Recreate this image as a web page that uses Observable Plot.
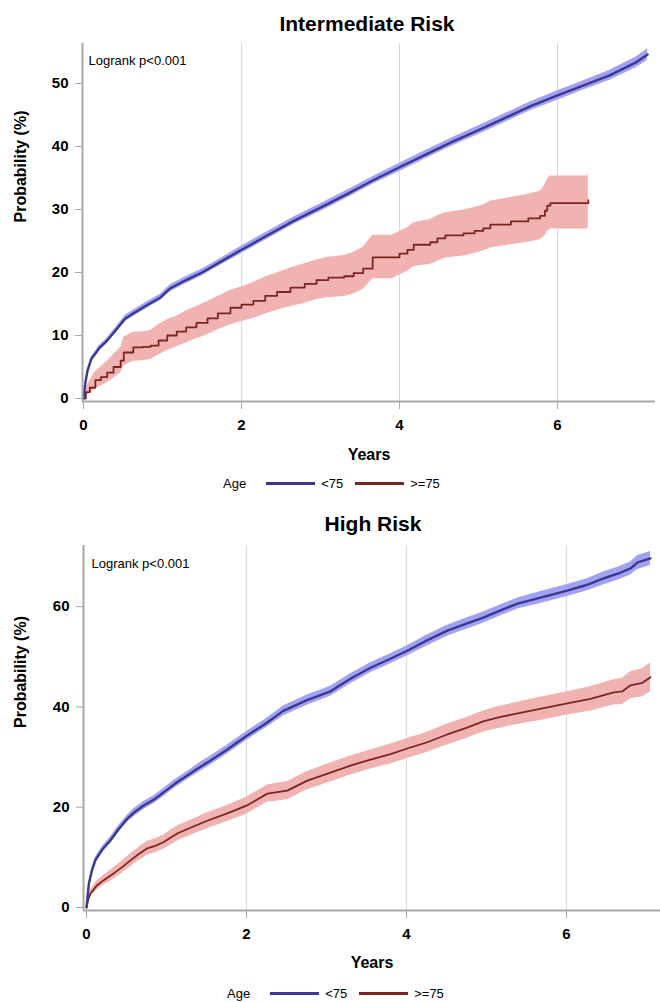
<!DOCTYPE html>
<html>
<head>
<meta charset="utf-8">
<script src="https://cdn.jsdelivr.net/npm/d3@7"></script>
<script src="https://cdn.jsdelivr.net/npm/@observablehq/plot@0.6"></script>
<style>
  html, body { margin: 0; padding: 0; background: #fff; }
  body { position: relative; width: 660px; height: 1002px; overflow: hidden;
         font-family: "Liberation Sans", Arial, sans-serif; color: #000; }
  .title { position: absolute; font-weight: bold; font-size: 21px; line-height: 24px;
           white-space: nowrap; transform: translateX(-50%); }
  .panel { position: absolute; left: 0; }
  .legend { position: absolute; display: flex; align-items: center; height: 16px;
            font-size: 13px; white-space: nowrap; }
  .legend .sw { display: inline-block; width: 49px; height: 3px; }
</style>
</head>
<body>
<div class="title" style="left:367px; top:12px">Intermediate Risk</div>
<div class="panel" id="p1" style="top:36px"></div>
<div class="legend" id="lg1" style="left:223px; top:475px"></div>
<div class="title" style="left:373px; top:512px">High Risk</div>
<div class="panel" id="p2" style="top:538px"></div>
<div class="legend" id="lg2" style="left:227px; top:985px"></div>
<script>
// ---------- labels ----------
const panelTitles = ["Intermediate Risk", "High Risk"];
const groups = ["<75", ">=75"];
const legendTitle = "Age";
const xLabel = "Years";
const yLabel = "Probability (%)";
const testLabel = "Logrank p<0.001";
const xTicks = [0, 2, 4, 6];
const gridTicks = [2, 4, 6];
const yTicksTop = [0, 10, 20, 30, 40, 50];
const yTicksBottom = [0, 20, 40, 60];

// ---------- Intermediate Risk, age <75 ----------
const intYoungT  = [0, 0.02, 0.05, 0.1, 0.15, 0.2, 0.3, 0.4, 0.53, 0.63, 0.8, 0.97, 1.1, 1.3, 1.5, 1.75, 2.0, 2.33, 2.66, 3.0, 3.33, 3.66, 4.0, 4.33, 4.66, 5.0, 5.33, 5.66, 6.0, 6.33, 6.66, 7.0, 7.14];
const intYoungP  = [0, 2.2, 4.4, 6.3, 7.1, 8.0, 9.2, 10.7, 12.7, 13.5, 14.8, 16.0, 17.5, 18.8, 20.0, 21.8, 23.6, 25.9, 28.2, 30.3, 32.4, 34.6, 36.7, 38.7, 40.7, 42.6, 44.5, 46.4, 48.1, 49.7, 51.3, 53.4, 54.6];
const intYoungLo = [0, 2.0, 4.1, 5.95, 6.7, 7.6, 8.8, 10.25, 12.2, 13.0, 14.3, 15.5, 16.95, 18.25, 19.45, 21.25, 23.0, 25.3, 27.6, 29.7, 31.8, 34.0, 36.05, 38.05, 40.05, 41.9, 43.8, 45.7, 47.35, 48.95, 50.5, 52.55, 53.7];
const intYoungHi = [0, 2.4, 4.7, 6.65, 7.5, 8.4, 9.6, 11.15, 13.2, 14.0, 15.3, 16.5, 18.05, 19.35, 20.55, 22.35, 24.2, 26.5, 28.8, 30.9, 33.0, 35.2, 37.35, 39.35, 41.35, 43.3, 45.2, 47.1, 48.85, 50.45, 52.1, 54.25, 55.5];

// ---------- Intermediate Risk, age >=75 ----------
const intOldT  = [0, 0.03, 0.08, 0.15, 0.22, 0.3, 0.38, 0.47, 0.51, 0.63, 0.75, 0.85, 0.95, 1.06, 1.18, 1.3, 1.43, 1.57, 1.7, 1.86, 2.0, 2.15, 2.3, 2.45, 2.62, 2.8, 2.95, 3.1, 3.3, 3.42, 3.54, 3.66, 3.91, 4.0, 4.1, 4.18, 4.39, 4.48, 4.58, 4.81, 4.95, 5.06, 5.15, 5.41, 5.63, 5.78, 5.84, 5.87, 5.91, 6.38, 6.39];
const intOldP  = [0, 1.0, 1.7, 2.9, 3.4, 4.1, 5.0, 6.0, 7.3, 8.1, 8.2, 8.4, 9.2, 10.0, 10.6, 11.3, 12.0, 12.7, 13.5, 14.4, 14.9, 15.5, 16.3, 16.9, 17.6, 18.2, 18.8, 19.2, 19.4, 19.9, 20.6, 22.4, 22.4, 23.0, 23.6, 24.4, 24.8, 25.4, 25.9, 26.2, 26.6, 27.0, 27.6, 28.1, 28.6, 29.0, 29.8, 30.6, 31.0, 31.0, 31.5];
const intOldLo = [0, 0.4, 0.8, 1.6, 2.0, 2.5, 3.2, 4.1, 5.2, 5.9, 6.0, 6.2, 6.9, 7.6, 8.2, 8.8, 9.5, 10.1, 10.9, 11.7, 12.2, 12.7, 13.4, 14.0, 14.6, 15.1, 15.7, 16.0, 16.2, 16.6, 17.3, 19.0, 19.0, 19.6, 20.2, 20.9, 21.3, 21.8, 22.3, 22.6, 23.0, 23.4, 23.9, 24.4, 24.8, 25.2, 25.8, 26.5, 26.9, 26.9, 27.3];
const intOldHi = [0, 1.7, 2.8, 4.3, 5.0, 5.9, 7.0, 8.1, 9.7, 10.5, 10.6, 10.8, 11.7, 12.5, 13.1, 13.9, 14.6, 15.4, 16.2, 17.2, 17.7, 18.4, 19.3, 19.9, 20.7, 21.4, 22.0, 22.4, 22.7, 23.2, 24.0, 25.9, 25.9, 26.5, 27.1, 27.9, 28.4, 29.0, 29.5, 29.9, 30.3, 30.7, 31.3, 31.9, 32.4, 32.9, 33.9, 34.8, 35.3, 35.3, 35.8];

// ---------- High Risk, age <75 ----------
const highYoungT  = [0, 0.03, 0.07, 0.11, 0.2, 0.3, 0.4, 0.51, 0.6, 0.71, 0.85, 0.96, 1.1, 1.26, 1.4, 1.55, 1.76, 2.0, 2.25, 2.46, 2.75, 3.05, 3.3, 3.55, 3.8, 4.01, 4.25, 4.51, 4.75, 4.96, 5.2, 5.39, 5.7, 6.01, 6.25, 6.46, 6.65, 6.8, 6.89, 7.05];
const highYoungP  = [0, 4.8, 7.5, 9.4, 11.6, 13.4, 15.6, 17.7, 19.0, 20.3, 21.6, 22.9, 24.6, 26.3, 27.8, 29.3, 31.5, 34.2, 36.8, 39.2, 41.3, 43.1, 45.6, 47.8, 49.6, 51.2, 53.2, 55.2, 56.6, 57.8, 59.4, 60.6, 61.9, 63.2, 64.3, 65.6, 66.6, 67.6, 68.8, 69.6];
const highYoungLo = [0, 4.4, 7.0, 8.8, 11.0, 12.7, 14.9, 17.0, 18.2, 19.5, 20.8, 22.1, 23.8, 25.5, 26.9, 28.4, 30.6, 33.3, 35.9, 38.2, 40.3, 42.1, 44.6, 46.8, 48.6, 50.2, 52.1, 54.1, 55.5, 56.7, 58.3, 59.5, 60.7, 62.0, 63.1, 64.3, 65.3, 66.3, 67.4, 68.2];
const highYoungHi = [0, 5.2, 8.0, 10.0, 12.2, 14.1, 16.3, 18.4, 19.8, 21.1, 22.4, 23.7, 25.4, 27.1, 28.7, 30.2, 32.4, 35.1, 37.7, 40.2, 42.3, 44.1, 46.6, 48.8, 50.6, 52.2, 54.3, 56.3, 57.7, 58.9, 60.5, 61.7, 63.1, 64.4, 65.5, 66.9, 67.9, 68.9, 70.2, 71.0];

// ---------- High Risk, age >=75 ----------
const highOldT  = [0, 0.02, 0.05, 0.13, 0.22, 0.34, 0.45, 0.55, 0.65, 0.76, 0.86, 0.96, 1.05, 1.14, 1.3, 1.51, 1.75, 2.0, 2.13, 2.26, 2.51, 2.76, 3.05, 3.3, 3.55, 3.8, 4.01, 4.25, 4.51, 4.75, 4.96, 5.15, 5.39, 5.7, 6.01, 6.3, 6.59, 6.7, 6.8, 6.95, 7.05];
const highOldP  = [0, 1.5, 2.8, 4.4, 5.5, 6.8, 8.1, 9.4, 10.6, 11.8, 12.3, 13.0, 13.9, 14.8, 15.9, 17.3, 18.7, 20.3, 21.5, 22.7, 23.3, 25.3, 26.9, 28.3, 29.5, 30.6, 31.7, 32.9, 34.5, 35.8, 37.1, 37.9, 38.7, 39.7, 40.7, 41.6, 42.9, 43.1, 44.3, 44.8, 45.9];
const highOldLo = [0, 1.0, 2.1, 3.5, 4.5, 5.7, 6.9, 8.1, 9.3, 10.4, 10.9, 11.6, 12.4, 13.3, 14.4, 15.7, 17.1, 18.6, 19.8, 21.0, 21.5, 23.5, 25.0, 26.4, 27.6, 28.6, 29.7, 30.9, 32.4, 33.7, 35.0, 35.7, 36.5, 37.4, 38.4, 39.2, 40.4, 40.5, 41.6, 42.0, 43.0];
const highOldHi = [0, 2.0, 3.5, 5.3, 6.5, 7.9, 9.3, 10.7, 11.9, 13.2, 13.7, 14.4, 15.4, 16.3, 17.4, 18.9, 20.3, 22.0, 23.2, 24.4, 25.1, 27.1, 28.8, 30.2, 31.4, 32.6, 33.7, 34.9, 36.6, 37.9, 39.2, 40.1, 40.9, 42.0, 43.0, 44.0, 45.4, 45.7, 47.0, 47.6, 48.8];

// ---------- styling ----------
const FONT = "'Liberation Sans', Arial, sans-serif";
const BLUE_LINE = "#393993", BLUE_BAND = "#a3a2f2";
const RED_LINE = "#7a2620",  RED_BAND = "#f1b3b1";
const AXIS_GRAY = "#a8a8a8", GRID_GRAY = "#d8d8d8";

function series(t, p, lo, hi) {
  return t.map((v, i) => ({t: v, p: p[i], lo: lo[i], hi: hi[i]}));
}

function panel(cfg) {
  const young = series(...cfg.young), old = series(...cfg.old);
  return Plot.plot({
    width: 660, height: cfg.height,
    marginTop: 7, marginBottom: cfg.marginBottom, marginLeft: cfg.marginLeft, marginRight: cfg.marginRight,
    x: {domain: cfg.xDomain},
    y: {domain: cfg.yDomain},
    style: {fontFamily: FONT, fontSize: "15px", fontWeight: "bold", background: "white", color: "black", overflow: "visible"},
    marks: [
      Plot.gridX(gridTicks, {stroke: GRID_GRAY, strokeOpacity: 1, strokeWidth: 1}),
      Plot.areaY(old, {x: "t", y1: "lo", y2: "hi", fill: RED_BAND, fillOpacity: 1, curve: "linear"}),
      Plot.areaY(young, {x: "t", y1: "lo", y2: "hi", fill: BLUE_BAND, fillOpacity: 1, curve: "linear"}),
      Plot.lineY(old, {x: "t", y: "p", stroke: RED_LINE, strokeWidth: 1.8, curve: cfg.oldCurve}),
      Plot.lineY(young, {x: "t", y: "p", stroke: BLUE_LINE, strokeWidth: 2.4, curve: "linear"}),
      Plot.ruleX([cfg.xDomain[0]], {stroke: AXIS_GRAY, strokeWidth: 2}),
      Plot.ruleY([cfg.yDomain[0]], {stroke: AXIS_GRAY, strokeWidth: 2}),
      Plot.axisX({ticks: xTicks, tickSize: 8, tickPadding: 10, label: null, stroke: AXIS_GRAY, fill: "black",
                  fontSize: 15, fontWeight: "bold", tickFormat: d => String(d)}),
      Plot.axisY({ticks: cfg.yTicks, tickSize: 7, tickPadding: 7, label: null, stroke: AXIS_GRAY, fill: "black",
                  fontSize: 15, fontWeight: "bold", tickFormat: d => String(d)}),
      Plot.text([xLabel], {frameAnchor: "bottom", dy: cfg.xLabelDy, text: d => d, fontSize: 16, fontWeight: "bold", fill: "black"}),
      Plot.text([yLabel], {frameAnchor: "left", dx: cfg.yLabelDx, rotate: -90, text: d => d, fontSize: 16, fontWeight: "bold", fill: "black"}),
      Plot.text([testLabel], {frameAnchor: "top-left", dx: cfg.testDx, dy: cfg.testDy, textAnchor: "start", text: d => d,
                              fontSize: 13, fontWeight: "normal", fill: "black"})
    ]
  });
}

document.getElementById("p1").append(panel({
  height: 432, marginBottom: 67, marginLeft: 82, marginRight: 5,
  xDomain: [-0.0127, 7.24], yDomain: [-0.48, 56.35], yTicks: yTicksTop,
  young: [intYoungT, intYoungP, intYoungLo, intYoungHi],
  old: [intOldT, intOldP, intOldLo, intOldHi], oldCurve: "step-after",
  xLabelDy: 58, yLabelDx: -62, testDx: 6, testDy: 12
}));

document.getElementById("p2").append(panel({
  height: 434, marginBottom: 62, marginLeft: 83, marginRight: 0,
  xDomain: [-0.0375, 7.175], yDomain: [-0.6, 72.18], yTicks: yTicksBottom,
  young: [highYoungT, highYoungP, highYoungLo, highYoungHi],
  old: [highOldT, highOldP, highOldLo, highOldHi], oldCurve: "linear",
  xLabelDy: 57, yLabelDx: -63, testDx: 8, testDy: 13
}));

function legend(id) {
  const el = document.getElementById(id);
  const colors = [BLUE_LINE, RED_LINE];
  let html = `<span style="margin-right:20px">${legendTitle}</span>`;
  groups.forEach((g, i) => {
    const esc = g.replace(/</g, "&lt;").replace(/>/g, "&gt;");
    html += `<span class="sw" style="background:${colors[i]}"></span>` +
            `<span style="margin-left:6px;margin-right:${i === 0 ? 12 : 0}px">${esc}</span>`;
  });
  el.innerHTML = html;
}
legend("lg1");
legend("lg2");
</script>
</body>
</html>
